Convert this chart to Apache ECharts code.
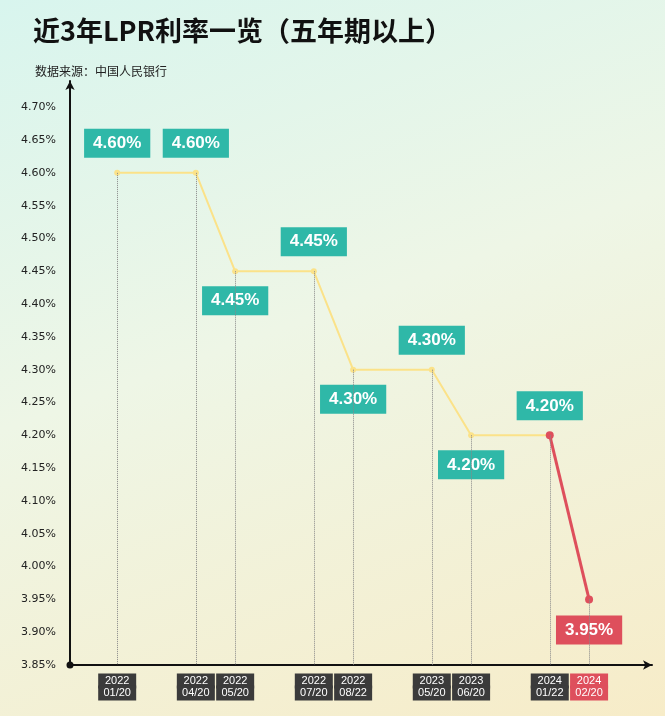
<!DOCTYPE html>
<html>
<head>
<meta charset="utf-8">
<script src="https://cdn.jsdelivr.net/npm/echarts@6/dist/echarts.min.js"></script>
<style>
  html, body { margin: 0; padding: 0; }
  #chart { width: 665px; height: 716px; background: linear-gradient(160deg, #d8f5ee 0%, #eef6e6 45%, #f7ecc8 100%); }
</style>
</head>
<body>
<div id="chart"></div>
<script>
// 非等距位置（按原图排布）
const positions = [0, 2, 3, 5, 6, 8, 9, 11, 12];
const dates = ['2022\n01/20', '2022\n04/20', '2022\n05/20', '2022\n07/20', '2022\n08/22',
               '2023\n05/20', '2023\n06/20', '2024\n01/22', '2024\n02/20'];
const rates = [4.60, 4.60, 4.45, 4.45, 4.30, 4.30, 4.20, 4.20, 3.95];
const labelAbove = [true, true, false, true, false, true, false, true, false];
const yTicks = [3.85, 3.90, 3.95, 4.00, 4.05, 4.10, 4.15, 4.20, 4.25, 4.30, 4.35, 4.40, 4.45, 4.50, 4.55, 4.60, 4.65, 4.70];

const chart = echarts.init(document.getElementById('chart'));

const teal = '#2fb8a8';
const red = '#de4f5c';
const yellow = '#fbe289';

const mkLabel = (i, color) => ({
  show: true,
  position: labelAbove[i] ? 'top' : 'bottom',
  distance: 12,
  formatter: rates[i].toFixed(2) + '%',
  backgroundColor: color,
  color: '#fff',
  fontWeight: 'bold',
  fontSize: 17,
  fontFamily: 'Arial, sans-serif',
  padding: [6, 9]
});

const n = rates.length;
const yellowData = positions.slice(0, n - 1).map((x, i) => ({
  value: [x, rates[i]],
  label: mkLabel(i, teal)
}));
const redData = [
  { value: [positions[n - 2], rates[n - 2]], label: { show: false } },
  { value: [positions[n - 1], rates[n - 1]], label: mkLabel(n - 1, red) }
];

const dropLines = positions.map((x, i) => [
  { coord: [x, rates[i]] },
  { coord: [x, yTicks[0]] }
]);

const boxStyle = bg => ({
  backgroundColor: bg, color: '#fff', fontSize: 11, lineHeight: 12,
  width: 38, align: 'center', padding: [2, 0], fontFamily: 'Arial'
});

chart.setOption({
  title: [
    { text: '近3年LPR利率一览（五年期以上）', left: 28, top: 12,
      textStyle: { fontSize: 27, fontWeight: 'bold', color: '#111', fontFamily: 'Noto Sans CJK SC' } },
    { text: '数据来源：中国人民银行', left: 30, top: 60,
      textStyle: { fontSize: 12, fontWeight: 'normal', color: '#222', fontFamily: 'Noto Sans CJK SC' } }
  ],
  grid: { left: 70, right: 13, top: 81, bottom: 51 },
  xAxis: {
    type: 'value', min: -1.2, max: 13.6,
    axisLine: { show: true, onZero: false, symbol: ['circle', 'arrow'], symbolSize: [7, 9], lineStyle: { color: '#111', width: 2 } },
    axisTick: { show: false },
    splitLine: { show: false },
    axisLabel: {
      customValues: positions,
      hideOverlap: false,
      showMaxLabel: true,
      margin: 10,
      formatter: v => {
        const i = positions.indexOf(v);
        return i === n - 1 ? '{r|' + dates[i] + '}' : '{d|' + dates[i] + '}';
      },
      rich: { d: boxStyle('#3b3b3b'), r: boxStyle(red) }
    }
  },
  yAxis: {
    type: 'value', min: 3.85, max: 4.74, interval: 0.05,
    axisLine: { show: true, onZero: false, symbol: ['none', 'arrow'], symbolSize: [7, 9], lineStyle: { color: '#111', width: 2 } },
    axisTick: { show: false },
    splitLine: { show: false },
    axisLabel: {
      customValues: yTicks,
      formatter: v => v.toFixed(2) + '%',
      color: '#222', fontSize: 11, fontFamily: 'DejaVu Sans', margin: 14
    }
  },
  series: [
    {
      type: 'line', data: yellowData,
      lineStyle: { color: yellow, width: 2 },
      itemStyle: { color: yellow },
      symbol: 'circle', symbolSize: 6,
      z: 3,
      markLine: {
        silent: true, symbol: 'none', label: { show: false },
        lineStyle: { color: '#888', type: 'dotted', width: 1 },
        data: dropLines
      }
    },
    {
      type: 'line', data: redData,
      lineStyle: { color: red, width: 3 },
      itemStyle: { color: red },
      symbol: 'circle', symbolSize: 8,
      z: 4
    }
  ]
});
</script>
</body>
</html>
